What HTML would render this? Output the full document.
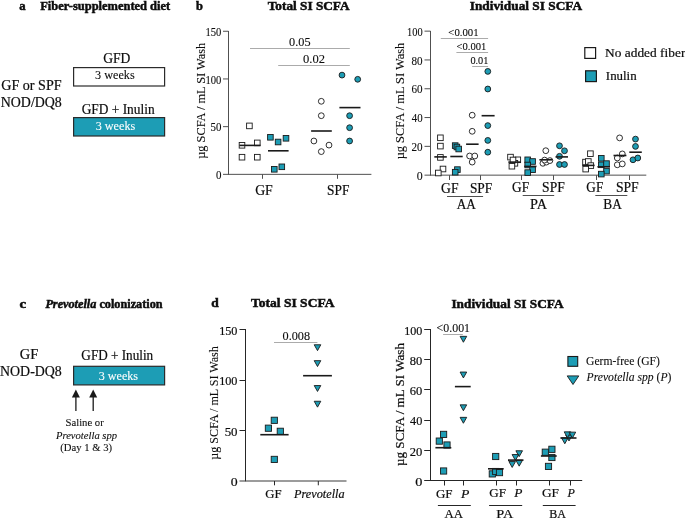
<!DOCTYPE html>
<html><head><meta charset="utf-8"><style>
html,body{margin:0;padding:0;background:#fff;}
svg{display:block;font-family:"Liberation Serif",serif;will-change:transform;}
</style></head><body>
<svg width="685" height="518" viewBox="0 0 685 518">
<rect width="685" height="518" fill="#fff"/>
<rect x="73.6" y="67.6" width="91" height="18.4" fill="#ffffff" stroke="#2b2b2b" stroke-width="1.2"/>
<rect x="73.6" y="117.6" width="91" height="18.4" fill="#1d9db5" stroke="#2b2b2b" stroke-width="1.2"/>
<line x1="228.5" y1="31.0" x2="228.5" y2="174.85" stroke="#505050" stroke-width="1"/>
<line x1="223.0" y1="174.35" x2="371.4" y2="174.35" stroke="#505050" stroke-width="1"/>
<line x1="223.0" y1="126.65" x2="228.5" y2="126.65" stroke="#505050" stroke-width="1"/>
<line x1="223.0" y1="78.95" x2="228.5" y2="78.95" stroke="#505050" stroke-width="1"/>
<line x1="223.0" y1="31.25" x2="228.5" y2="31.25" stroke="#505050" stroke-width="1"/>
<line x1="262.5" y1="174.35" x2="262.5" y2="178.8" stroke="#505050" stroke-width="1"/>
<line x1="337.5" y1="174.35" x2="337.5" y2="178.8" stroke="#505050" stroke-width="1"/>
<line x1="250" y1="48.5" x2="349.8" y2="48.5" stroke="#ababab" stroke-width="1"/>
<line x1="278.2" y1="65.5" x2="349.8" y2="65.5" stroke="#ababab" stroke-width="1"/>
<rect x="246.60" y="123.10" width="5.6" height="5.6" fill="#ffffff" stroke="#1a1a1a" stroke-width="0.9"/>
<rect x="239.20" y="142.50" width="5.6" height="5.6" fill="#ffffff" stroke="#1a1a1a" stroke-width="0.9"/>
<rect x="254.50" y="140.10" width="5.6" height="5.6" fill="#ffffff" stroke="#1a1a1a" stroke-width="0.9"/>
<rect x="239.20" y="154.40" width="5.6" height="5.6" fill="#ffffff" stroke="#1a1a1a" stroke-width="0.9"/>
<rect x="254.50" y="154.40" width="5.6" height="5.6" fill="#ffffff" stroke="#1a1a1a" stroke-width="0.9"/>
<line x1="239.4" y1="145.4" x2="260.5" y2="145.4" stroke="#1a1a1a" stroke-width="1.6"/>
<rect x="267.60" y="134.50" width="5.6" height="5.6" fill="#1d9db5" stroke="#1a1a1a" stroke-width="0.9"/>
<rect x="275.30" y="139.20" width="5.6" height="5.6" fill="#1d9db5" stroke="#1a1a1a" stroke-width="0.9"/>
<rect x="283.20" y="135.50" width="5.6" height="5.6" fill="#1d9db5" stroke="#1a1a1a" stroke-width="0.9"/>
<rect x="271.50" y="166.50" width="5.6" height="5.6" fill="#1d9db5" stroke="#1a1a1a" stroke-width="0.9"/>
<rect x="279.00" y="164.00" width="5.6" height="5.6" fill="#1d9db5" stroke="#1a1a1a" stroke-width="0.9"/>
<line x1="268" y1="150.8" x2="288.6" y2="150.8" stroke="#1a1a1a" stroke-width="1.6"/>
<circle cx="321.3" cy="101.3" r="2.9" fill="#ffffff" stroke="#1a1a1a" stroke-width="0.9"/>
<circle cx="321.3" cy="115.7" r="2.9" fill="#ffffff" stroke="#1a1a1a" stroke-width="0.9"/>
<circle cx="313.9" cy="141" r="2.9" fill="#ffffff" stroke="#1a1a1a" stroke-width="0.9"/>
<circle cx="329" cy="145.1" r="2.9" fill="#ffffff" stroke="#1a1a1a" stroke-width="0.9"/>
<circle cx="321.3" cy="151.6" r="2.9" fill="#ffffff" stroke="#1a1a1a" stroke-width="0.9"/>
<line x1="311.1" y1="131" x2="331.8" y2="131" stroke="#1a1a1a" stroke-width="1.6"/>
<circle cx="342" cy="75.1" r="2.9" fill="#1d9db5" stroke="#1a1a1a" stroke-width="0.9"/>
<circle cx="357.7" cy="79.3" r="2.9" fill="#1d9db5" stroke="#1a1a1a" stroke-width="0.9"/>
<circle cx="349.6" cy="115.7" r="2.9" fill="#1d9db5" stroke="#1a1a1a" stroke-width="0.9"/>
<circle cx="349.6" cy="127.7" r="2.9" fill="#1d9db5" stroke="#1a1a1a" stroke-width="0.9"/>
<circle cx="349.6" cy="141" r="2.9" fill="#1d9db5" stroke="#1a1a1a" stroke-width="0.9"/>
<line x1="339.4" y1="107.6" x2="360.5" y2="107.6" stroke="#1a1a1a" stroke-width="1.6"/>
<line x1="430.5" y1="31.0" x2="430.5" y2="175.65" stroke="#505050" stroke-width="1"/>
<line x1="424.5" y1="175.15" x2="646.3" y2="175.15" stroke="#505050" stroke-width="1"/>
<line x1="424.5" y1="146.35000000000002" x2="430.5" y2="146.35000000000002" stroke="#505050" stroke-width="1"/>
<line x1="424.5" y1="117.55000000000001" x2="430.5" y2="117.55000000000001" stroke="#505050" stroke-width="1"/>
<line x1="424.5" y1="88.75000000000001" x2="430.5" y2="88.75000000000001" stroke="#505050" stroke-width="1"/>
<line x1="424.5" y1="59.95000000000002" x2="430.5" y2="59.95000000000002" stroke="#505050" stroke-width="1"/>
<line x1="424.5" y1="31.150000000000006" x2="430.5" y2="31.150000000000006" stroke="#505050" stroke-width="1"/>
<line x1="449.5" y1="175.15" x2="449.5" y2="180.0" stroke="#505050" stroke-width="1"/>
<line x1="480.5" y1="175.15" x2="480.5" y2="180.0" stroke="#505050" stroke-width="1"/>
<line x1="521.5" y1="175.15" x2="521.5" y2="180.0" stroke="#505050" stroke-width="1"/>
<line x1="553.5" y1="175.15" x2="553.5" y2="180.0" stroke="#505050" stroke-width="1"/>
<line x1="596.5" y1="175.15" x2="596.5" y2="180.0" stroke="#505050" stroke-width="1"/>
<line x1="629.5" y1="175.15" x2="629.5" y2="180.0" stroke="#505050" stroke-width="1"/>
<line x1="447.0" y1="196.5" x2="483.1" y2="196.5" stroke="#505050" stroke-width="1"/>
<line x1="522.7" y1="195.5" x2="554.2" y2="195.5" stroke="#505050" stroke-width="1"/>
<line x1="595.3" y1="195.5" x2="627.3" y2="195.5" stroke="#505050" stroke-width="1"/>
<line x1="440.8" y1="38.5" x2="488.1" y2="38.5" stroke="#ababab" stroke-width="1"/>
<line x1="456.4" y1="52.5" x2="488.1" y2="52.5" stroke="#ababab" stroke-width="1"/>
<line x1="472.2" y1="66.5" x2="488.1" y2="66.5" stroke="#ababab" stroke-width="1"/>
<rect x="584.8" y="47.6" width="10.8" height="10.8" fill="#ffffff" stroke="#1a1a1a" stroke-width="1.2"/>
<rect x="585.6" y="70.8" width="10.8" height="10.8" fill="#1d9db5" stroke="#1a1a1a" stroke-width="1.2"/>
<rect x="437.60" y="135.00" width="5.6" height="5.6" fill="#ffffff" stroke="#1a1a1a" stroke-width="0.9"/>
<rect x="437.60" y="143.30" width="5.6" height="5.6" fill="#ffffff" stroke="#1a1a1a" stroke-width="0.9"/>
<rect x="437.60" y="154.60" width="5.6" height="5.6" fill="#ffffff" stroke="#1a1a1a" stroke-width="0.9"/>
<rect x="440.20" y="166.20" width="5.6" height="5.6" fill="#ffffff" stroke="#1a1a1a" stroke-width="0.9"/>
<rect x="435.50" y="170.20" width="5.6" height="5.6" fill="#ffffff" stroke="#1a1a1a" stroke-width="0.9"/>
<line x1="434.3" y1="156.9" x2="446.8" y2="156.9" stroke="#1a1a1a" stroke-width="1.6"/>
<rect x="452.40" y="142.80" width="5.6" height="5.6" fill="#1d9db5" stroke="#1a1a1a" stroke-width="0.9"/>
<rect x="454.10" y="144.20" width="5.6" height="5.6" fill="#1d9db5" stroke="#1a1a1a" stroke-width="0.9"/>
<rect x="455.90" y="146.20" width="5.6" height="5.6" fill="#1d9db5" stroke="#1a1a1a" stroke-width="0.9"/>
<rect x="454.60" y="166.80" width="5.6" height="5.6" fill="#1d9db5" stroke="#1a1a1a" stroke-width="0.9"/>
<rect x="452.40" y="169.40" width="5.6" height="5.6" fill="#1d9db5" stroke="#1a1a1a" stroke-width="0.9"/>
<line x1="450.3" y1="156.5" x2="462.7" y2="156.5" stroke="#1a1a1a" stroke-width="1.6"/>
<circle cx="472.2" cy="115.2" r="2.9" fill="#ffffff" stroke="#1a1a1a" stroke-width="0.9"/>
<circle cx="472.2" cy="131.3" r="2.9" fill="#ffffff" stroke="#1a1a1a" stroke-width="0.9"/>
<circle cx="469.6" cy="156" r="2.9" fill="#ffffff" stroke="#1a1a1a" stroke-width="0.9"/>
<circle cx="474.8" cy="156" r="2.9" fill="#ffffff" stroke="#1a1a1a" stroke-width="0.9"/>
<circle cx="472.2" cy="162.1" r="2.9" fill="#ffffff" stroke="#1a1a1a" stroke-width="0.9"/>
<line x1="466.1" y1="144.2" x2="478.6" y2="144.2" stroke="#1a1a1a" stroke-width="1.6"/>
<circle cx="487.8" cy="71.4" r="2.9" fill="#1d9db5" stroke="#1a1a1a" stroke-width="0.9"/>
<circle cx="487.8" cy="89" r="2.9" fill="#1d9db5" stroke="#1a1a1a" stroke-width="0.9"/>
<circle cx="487.8" cy="125.6" r="2.9" fill="#1d9db5" stroke="#1a1a1a" stroke-width="0.9"/>
<circle cx="487.8" cy="140.4" r="2.9" fill="#1d9db5" stroke="#1a1a1a" stroke-width="0.9"/>
<circle cx="487.8" cy="152.2" r="2.9" fill="#1d9db5" stroke="#1a1a1a" stroke-width="0.9"/>
<line x1="481.6" y1="115.7" x2="494.6" y2="115.7" stroke="#1a1a1a" stroke-width="1.6"/>
<rect x="507.70" y="154.30" width="5.6" height="5.6" fill="#ffffff" stroke="#1a1a1a" stroke-width="0.9"/>
<rect x="515.00" y="157.00" width="5.6" height="5.6" fill="#ffffff" stroke="#1a1a1a" stroke-width="0.9"/>
<rect x="512.10" y="160.50" width="5.6" height="5.6" fill="#ffffff" stroke="#1a1a1a" stroke-width="0.9"/>
<rect x="509.10" y="163.40" width="5.6" height="5.6" fill="#ffffff" stroke="#1a1a1a" stroke-width="0.9"/>
<rect x="510.20" y="157.20" width="5.6" height="5.6" fill="#ffffff" stroke="#1a1a1a" stroke-width="0.9"/>
<line x1="508.4" y1="162.1" x2="520.7" y2="162.1" stroke="#1a1a1a" stroke-width="1.6"/>
<rect x="524.90" y="157.00" width="5.6" height="5.6" fill="#1d9db5" stroke="#1a1a1a" stroke-width="0.9"/>
<rect x="529.80" y="158.70" width="5.6" height="5.6" fill="#1d9db5" stroke="#1a1a1a" stroke-width="0.9"/>
<rect x="524.90" y="162.20" width="5.6" height="5.6" fill="#1d9db5" stroke="#1a1a1a" stroke-width="0.9"/>
<rect x="529.80" y="166.90" width="5.6" height="5.6" fill="#1d9db5" stroke="#1a1a1a" stroke-width="0.9"/>
<rect x="524.90" y="169.80" width="5.6" height="5.6" fill="#1d9db5" stroke="#1a1a1a" stroke-width="0.9"/>
<line x1="524.2" y1="166.4" x2="536.5" y2="166.4" stroke="#1a1a1a" stroke-width="1.6"/>
<circle cx="545.8" cy="150.7" r="2.9" fill="#ffffff" stroke="#1a1a1a" stroke-width="0.9"/>
<circle cx="542.9" cy="163.3" r="2.9" fill="#ffffff" stroke="#1a1a1a" stroke-width="0.9"/>
<circle cx="546.4" cy="162.1" r="2.9" fill="#ffffff" stroke="#1a1a1a" stroke-width="0.9"/>
<circle cx="549.9" cy="160.6" r="2.9" fill="#ffffff" stroke="#1a1a1a" stroke-width="0.9"/>
<circle cx="544.6" cy="160.1" r="2.9" fill="#ffffff" stroke="#1a1a1a" stroke-width="0.9"/>
<line x1="539.4" y1="159.8" x2="552.5" y2="159.8" stroke="#1a1a1a" stroke-width="1.6"/>
<circle cx="559.5" cy="145.8" r="2.9" fill="#1d9db5" stroke="#1a1a1a" stroke-width="0.9"/>
<circle cx="564.5" cy="150.8" r="2.9" fill="#1d9db5" stroke="#1a1a1a" stroke-width="0.9"/>
<circle cx="559.5" cy="156.3" r="2.9" fill="#1d9db5" stroke="#1a1a1a" stroke-width="0.9"/>
<circle cx="559.5" cy="164.5" r="2.9" fill="#1d9db5" stroke="#1a1a1a" stroke-width="0.9"/>
<circle cx="564.5" cy="164.5" r="2.9" fill="#1d9db5" stroke="#1a1a1a" stroke-width="0.9"/>
<line x1="555.5" y1="156.9" x2="568" y2="156.9" stroke="#1a1a1a" stroke-width="1.6"/>
<rect x="587.60" y="150.90" width="5.6" height="5.6" fill="#ffffff" stroke="#1a1a1a" stroke-width="0.9"/>
<rect x="582.70" y="159.30" width="5.6" height="5.6" fill="#ffffff" stroke="#1a1a1a" stroke-width="0.9"/>
<rect x="585.50" y="158.70" width="5.6" height="5.6" fill="#ffffff" stroke="#1a1a1a" stroke-width="0.9"/>
<rect x="588.00" y="162.80" width="5.6" height="5.6" fill="#ffffff" stroke="#1a1a1a" stroke-width="0.9"/>
<rect x="582.90" y="166.30" width="5.6" height="5.6" fill="#ffffff" stroke="#1a1a1a" stroke-width="0.9"/>
<line x1="582.2" y1="165.4" x2="594.6" y2="165.4" stroke="#1a1a1a" stroke-width="1.6"/>
<rect x="598.50" y="155.50" width="5.6" height="5.6" fill="#1d9db5" stroke="#1a1a1a" stroke-width="0.9"/>
<rect x="598.50" y="162.00" width="5.6" height="5.6" fill="#1d9db5" stroke="#1a1a1a" stroke-width="0.9"/>
<rect x="603.70" y="160.80" width="5.6" height="5.6" fill="#1d9db5" stroke="#1a1a1a" stroke-width="0.9"/>
<rect x="603.70" y="168.30" width="5.6" height="5.6" fill="#1d9db5" stroke="#1a1a1a" stroke-width="0.9"/>
<rect x="598.50" y="171.30" width="5.6" height="5.6" fill="#1d9db5" stroke="#1a1a1a" stroke-width="0.9"/>
<line x1="597.4" y1="166.8" x2="610" y2="166.8" stroke="#1a1a1a" stroke-width="1.6"/>
<circle cx="619.6" cy="137.9" r="2.9" fill="#ffffff" stroke="#1a1a1a" stroke-width="0.9"/>
<circle cx="622.3" cy="153.9" r="2.9" fill="#ffffff" stroke="#1a1a1a" stroke-width="0.9"/>
<circle cx="617.3" cy="158" r="2.9" fill="#ffffff" stroke="#1a1a1a" stroke-width="0.9"/>
<circle cx="617.3" cy="164.8" r="2.9" fill="#ffffff" stroke="#1a1a1a" stroke-width="0.9"/>
<circle cx="622.3" cy="163.9" r="2.9" fill="#ffffff" stroke="#1a1a1a" stroke-width="0.9"/>
<line x1="613.5" y1="155.5" x2="626.4" y2="155.5" stroke="#1a1a1a" stroke-width="1.6"/>
<circle cx="635.5" cy="139.1" r="2.9" fill="#1d9db5" stroke="#1a1a1a" stroke-width="0.9"/>
<circle cx="635.5" cy="146.4" r="2.9" fill="#1d9db5" stroke="#1a1a1a" stroke-width="0.9"/>
<circle cx="633" cy="159.8" r="2.9" fill="#1d9db5" stroke="#1a1a1a" stroke-width="0.9"/>
<circle cx="637.8" cy="158" r="2.9" fill="#1d9db5" stroke="#1a1a1a" stroke-width="0.9"/>
<line x1="629.3" y1="152.2" x2="641.8" y2="152.2" stroke="#1a1a1a" stroke-width="1.6"/>
<rect x="73.6" y="366.3" width="91" height="18.6" fill="#1d9db5" stroke="#2b2b2b" stroke-width="1.2"/>
<line x1="75.9" y1="396" x2="75.9" y2="411" stroke="#1a1a1a" stroke-width="1.3"/>
<path d="M71.9,397.4 L79.9,397.4 L75.9,389.6 Z" fill="#1a1a1a"/>
<line x1="93.2" y1="396" x2="93.2" y2="411" stroke="#1a1a1a" stroke-width="1.3"/>
<path d="M89.2,397.4 L97.2,397.4 L93.2,389.6 Z" fill="#1a1a1a"/>
<line x1="245.5" y1="329.0" x2="245.5" y2="481.3" stroke="#262626" stroke-width="1"/>
<line x1="239.5" y1="481.0" x2="346.5" y2="481.0" stroke="#3a3a3a" stroke-width="1.1"/>
<line x1="239.5" y1="430.5" x2="245.5" y2="430.5" stroke="#262626" stroke-width="1"/>
<line x1="239.5" y1="380.5" x2="245.5" y2="380.5" stroke="#262626" stroke-width="1"/>
<line x1="239.5" y1="329.5" x2="245.5" y2="329.5" stroke="#262626" stroke-width="1"/>
<line x1="274.5" y1="481.0" x2="274.5" y2="485.3" stroke="#262626" stroke-width="1"/>
<line x1="318.3" y1="481.0" x2="318.3" y2="485.3" stroke="#262626" stroke-width="1"/>
<line x1="274.0" y1="342.5" x2="317.4" y2="342.5" stroke="#ababab" stroke-width="1"/>
<rect x="271.20" y="417.20" width="6.2" height="6.2" fill="#1d9db5" stroke="#1a1a1a" stroke-width="0.9"/>
<rect x="265.30" y="425.10" width="6.2" height="6.2" fill="#1d9db5" stroke="#1a1a1a" stroke-width="0.9"/>
<rect x="277.20" y="428.20" width="6.2" height="6.2" fill="#1d9db5" stroke="#1a1a1a" stroke-width="0.9"/>
<rect x="271.20" y="456.30" width="6.2" height="6.2" fill="#1d9db5" stroke="#1a1a1a" stroke-width="0.9"/>
<line x1="260.3" y1="434.7" x2="288.6" y2="434.7" stroke="#1a1a1a" stroke-width="1.6"/>
<path d="M314.20,344.75 L320.80,344.75 L317.50,350.65 Z" fill="#1d9db5" stroke="#1a1a1a" stroke-width="0.9"/>
<path d="M314.20,360.65 L320.80,360.65 L317.50,366.55 Z" fill="#1d9db5" stroke="#1a1a1a" stroke-width="0.9"/>
<path d="M314.20,385.55 L320.80,385.55 L317.50,391.45 Z" fill="#1d9db5" stroke="#1a1a1a" stroke-width="0.9"/>
<path d="M314.20,401.25 L320.80,401.25 L317.50,407.15 Z" fill="#1d9db5" stroke="#1a1a1a" stroke-width="0.9"/>
<line x1="303.1" y1="375.7" x2="331.9" y2="375.7" stroke="#1a1a1a" stroke-width="1.6"/>
<line x1="430.5" y1="329.0" x2="430.5" y2="481.0" stroke="#262626" stroke-width="1"/>
<line x1="424.2" y1="480.5" x2="582.2" y2="480.5" stroke="#262626" stroke-width="1"/>
<line x1="424.2" y1="450.5" x2="430.5" y2="450.5" stroke="#262626" stroke-width="1"/>
<line x1="424.2" y1="420.5" x2="430.5" y2="420.5" stroke="#262626" stroke-width="1"/>
<line x1="424.2" y1="389.5" x2="430.5" y2="389.5" stroke="#262626" stroke-width="1"/>
<line x1="424.2" y1="359.5" x2="430.5" y2="359.5" stroke="#262626" stroke-width="1"/>
<line x1="424.2" y1="329.5" x2="430.5" y2="329.5" stroke="#262626" stroke-width="1"/>
<line x1="444.5" y1="480.5" x2="444.5" y2="485.5" stroke="#262626" stroke-width="1"/>
<line x1="463.5" y1="480.5" x2="463.5" y2="485.5" stroke="#262626" stroke-width="1"/>
<line x1="496.5" y1="480.5" x2="496.5" y2="485.5" stroke="#262626" stroke-width="1"/>
<line x1="516.5" y1="480.5" x2="516.5" y2="485.5" stroke="#262626" stroke-width="1"/>
<line x1="549.5" y1="480.5" x2="549.5" y2="485.5" stroke="#262626" stroke-width="1"/>
<line x1="570.5" y1="480.5" x2="570.5" y2="485.5" stroke="#262626" stroke-width="1"/>
<line x1="437.9" y1="505.5" x2="470.8" y2="505.5" stroke="#262626" stroke-width="1"/>
<line x1="489.1" y1="505.5" x2="522.2" y2="505.5" stroke="#262626" stroke-width="1"/>
<line x1="542.8" y1="505.5" x2="575.6" y2="505.5" stroke="#262626" stroke-width="1"/>
<line x1="443.1" y1="334.5" x2="462.8" y2="334.5" stroke="#ababab" stroke-width="1"/>
<rect x="567.9" y="356.5" width="9.8" height="9.8" fill="#1d9db5" stroke="#1a1a1a" stroke-width="1.1"/>
<path d="M567.20,375.90 L578.80,375.90 L573.00,384.50 Z" fill="#1d9db5" stroke="#1a1a1a" stroke-width="0.9"/>
<rect x="440.50" y="431.30" width="6.2" height="6.2" fill="#1d9db5" stroke="#1a1a1a" stroke-width="0.9"/>
<rect x="436.20" y="438.00" width="6.2" height="6.2" fill="#1d9db5" stroke="#1a1a1a" stroke-width="0.9"/>
<rect x="443.90" y="441.90" width="6.2" height="6.2" fill="#1d9db5" stroke="#1a1a1a" stroke-width="0.9"/>
<rect x="440.50" y="467.90" width="6.2" height="6.2" fill="#1d9db5" stroke="#1a1a1a" stroke-width="0.9"/>
<line x1="435.4" y1="447.7" x2="451.3" y2="447.7" stroke="#1a1a1a" stroke-width="1.6"/>
<path d="M460.10,336.35 L466.70,336.35 L463.40,342.25 Z" fill="#1d9db5" stroke="#1a1a1a" stroke-width="0.9"/>
<path d="M460.10,372.05 L466.70,372.05 L463.40,377.95 Z" fill="#1d9db5" stroke="#1a1a1a" stroke-width="0.9"/>
<path d="M460.10,404.85 L466.70,404.85 L463.40,410.75 Z" fill="#1d9db5" stroke="#1a1a1a" stroke-width="0.9"/>
<path d="M460.10,417.35 L466.70,417.35 L463.40,423.25 Z" fill="#1d9db5" stroke="#1a1a1a" stroke-width="0.9"/>
<line x1="454.9" y1="386.6" x2="470.7" y2="386.6" stroke="#1a1a1a" stroke-width="1.6"/>
<rect x="492.60" y="453.40" width="6.2" height="6.2" fill="#1d9db5" stroke="#1a1a1a" stroke-width="0.9"/>
<rect x="489.20" y="470.80" width="6.2" height="6.2" fill="#1d9db5" stroke="#1a1a1a" stroke-width="0.9"/>
<rect x="492.60" y="468.40" width="6.2" height="6.2" fill="#1d9db5" stroke="#1a1a1a" stroke-width="0.9"/>
<rect x="496.40" y="469.50" width="6.2" height="6.2" fill="#1d9db5" stroke="#1a1a1a" stroke-width="0.9"/>
<line x1="488" y1="468.8" x2="503.7" y2="468.8" stroke="#1a1a1a" stroke-width="1.6"/>
<path d="M515.90,450.75 L522.50,450.75 L519.20,456.65 Z" fill="#1d9db5" stroke="#1a1a1a" stroke-width="0.9"/>
<path d="M512.10,454.55 L518.70,454.55 L515.40,460.45 Z" fill="#1d9db5" stroke="#1a1a1a" stroke-width="0.9"/>
<path d="M508.90,461.55 L515.50,461.55 L512.20,467.45 Z" fill="#1d9db5" stroke="#1a1a1a" stroke-width="0.9"/>
<path d="M515.90,460.25 L522.50,460.25 L519.20,466.15 Z" fill="#1d9db5" stroke="#1a1a1a" stroke-width="0.9"/>
<line x1="508" y1="460.1" x2="523.5" y2="460.1" stroke="#1a1a1a" stroke-width="1.6"/>
<rect x="542.20" y="449.10" width="6.2" height="6.2" fill="#1d9db5" stroke="#1a1a1a" stroke-width="0.9"/>
<rect x="548.80" y="446.20" width="6.2" height="6.2" fill="#1d9db5" stroke="#1a1a1a" stroke-width="0.9"/>
<rect x="548.80" y="454.40" width="6.2" height="6.2" fill="#1d9db5" stroke="#1a1a1a" stroke-width="0.9"/>
<rect x="545.40" y="463.30" width="6.2" height="6.2" fill="#1d9db5" stroke="#1a1a1a" stroke-width="0.9"/>
<line x1="540.9" y1="456" x2="556.7" y2="456" stroke="#1a1a1a" stroke-width="1.6"/>
<path d="M561.50,437.85 L568.10,437.85 L564.80,443.75 Z" fill="#1d9db5" stroke="#1a1a1a" stroke-width="0.9"/>
<path d="M565.70,435.05 L572.30,435.05 L569.00,440.95 Z" fill="#1d9db5" stroke="#1a1a1a" stroke-width="0.9"/>
<path d="M564.20,431.85 L570.80,431.85 L567.50,437.75 Z" fill="#1d9db5" stroke="#1a1a1a" stroke-width="0.9"/>
<path d="M569.10,432.15 L575.70,432.15 L572.40,438.05 Z" fill="#1d9db5" stroke="#1a1a1a" stroke-width="0.9"/>
<line x1="560.4" y1="438" x2="576.5" y2="438" stroke="#1a1a1a" stroke-width="1.6"/>
<text transform="translate(19.32,9.60) scale(0.9584,1)" font-size="13.3" fill="#0d0d0d" stroke="#0d0d0d" stroke-width="0.5"><tspan font-style="normal" font-weight="bold">a</tspan></text>
<text transform="translate(40.21,9.60) scale(0.9378,1)" font-size="13.3" fill="#0d0d0d" stroke="#0d0d0d" stroke-width="0.5"><tspan font-style="normal" font-weight="bold">Fiber-supplemented diet</tspan></text>
<text transform="translate(1.24,89.60) scale(1.0369,1)" font-size="13.6" fill="#0d0d0d" stroke="#0d0d0d" stroke-width="0.2"><tspan font-style="normal" font-weight="normal">GF or SPF</tspan></text>
<text transform="translate(0.78,106.50) scale(1.0229,1)" font-size="13.6" fill="#0d0d0d" stroke="#0d0d0d" stroke-width="0.2"><tspan font-style="normal" font-weight="normal">NOD/DQ8</tspan></text>
<text transform="translate(103.16,63.30) scale(0.9995,1)" font-size="13.6" fill="#0d0d0d" stroke="#0d0d0d" stroke-width="0.2"><tspan font-style="normal" font-weight="normal">GFD</tspan></text>
<text transform="translate(95.09,79.30) scale(0.9915,1)" font-size="12.3" fill="#0d0d0d" stroke="#0d0d0d" stroke-width="0.1"><tspan font-style="normal" font-weight="normal">3 weeks</tspan></text>
<text transform="translate(81.66,113.80) scale(0.9845,1)" font-size="13.6" fill="#0d0d0d" stroke="#0d0d0d" stroke-width="0.2"><tspan font-style="normal" font-weight="normal">GFD + Inulin</tspan></text>
<text transform="translate(95.69,129.90) scale(0.9915,1)" font-size="12.3" fill="#ffffff" stroke="#ffffff" stroke-width="0.1"><tspan font-style="normal" font-weight="normal">3 weeks</tspan></text>
<text transform="translate(196.08,9.60) scale(0.9310,1)" font-size="13.4" fill="#0d0d0d" stroke="#0d0d0d" stroke-width="0.5"><tspan font-style="normal" font-weight="bold">b</tspan></text>
<text transform="translate(267.70,9.60) scale(0.9910,1)" font-size="13.4" fill="#0d0d0d" stroke="#0d0d0d" stroke-width="0.5"><tspan font-style="normal" font-weight="bold">Total SI SCFA</tspan></text>
<text transform="translate(215.96,179.01) scale(0.9442,1)" font-size="11.6" fill="#0d0d0d" stroke="#0d0d0d" stroke-width="0.1"><tspan font-style="normal" font-weight="normal">0</tspan></text>
<text transform="translate(210.55,131.31) scale(0.9387,1)" font-size="11.6" fill="#0d0d0d" stroke="#0d0d0d" stroke-width="0.1"><tspan font-style="normal" font-weight="normal">50</tspan></text>
<text transform="translate(205.50,83.61) scale(0.9154,1)" font-size="11.6" fill="#0d0d0d" stroke="#0d0d0d" stroke-width="0.1"><tspan font-style="normal" font-weight="normal">100</tspan></text>
<text transform="translate(205.50,35.91) scale(0.9154,1)" font-size="11.6" fill="#0d0d0d" stroke="#0d0d0d" stroke-width="0.1"><tspan font-style="normal" font-weight="normal">150</tspan></text>
<text transform="translate(255.15,194.90) scale(0.9911,1)" font-size="13.9" fill="#0d0d0d" stroke="#0d0d0d" stroke-width="0.2"><tspan font-style="normal" font-weight="normal">GF</tspan></text>
<text transform="translate(327.03,194.90) scale(0.9623,1)" font-size="13.9" fill="#0d0d0d" stroke="#0d0d0d" stroke-width="0.2"><tspan font-style="normal" font-weight="normal">SPF</tspan></text>
<text transform="translate(205.10,158.77) rotate(-90) scale(1.0033,1)" font-size="12.3" fill="#0d0d0d" stroke="#0d0d0d" stroke-width="0.1"><tspan font-style="normal" font-weight="normal">µg SCFA / mL SI Wash</tspan></text>
<text transform="translate(289.11,45.80) scale(1.0230,1)" font-size="12.0" fill="#0d0d0d" stroke="#0d0d0d" stroke-width="0.1"><tspan font-style="normal" font-weight="normal">0.05</tspan></text>
<text transform="translate(303.10,62.90) scale(1.0473,1)" font-size="12.0" fill="#0d0d0d" stroke="#0d0d0d" stroke-width="0.1"><tspan font-style="normal" font-weight="normal">0.02</tspan></text>
<text transform="translate(469.73,9.60) scale(0.9962,1)" font-size="13.4" fill="#0d0d0d" stroke="#0d0d0d" stroke-width="0.5"><tspan font-style="normal" font-weight="bold">Individual SI SCFA</tspan></text>
<text transform="translate(416.72,179.81) scale(1.0263,1)" font-size="11.6" fill="#0d0d0d" stroke="#0d0d0d" stroke-width="0.1"><tspan font-style="normal" font-weight="normal">0</tspan></text>
<text transform="translate(411.50,151.01) scale(0.9610,1)" font-size="11.6" fill="#0d0d0d" stroke="#0d0d0d" stroke-width="0.1"><tspan font-style="normal" font-weight="normal">20</tspan></text>
<text transform="translate(411.78,122.21) scale(0.9354,1)" font-size="11.6" fill="#0d0d0d" stroke="#0d0d0d" stroke-width="0.1"><tspan font-style="normal" font-weight="normal">40</tspan></text>
<text transform="translate(411.56,93.41) scale(0.9558,1)" font-size="11.6" fill="#0d0d0d" stroke="#0d0d0d" stroke-width="0.1"><tspan font-style="normal" font-weight="normal">60</tspan></text>
<text transform="translate(411.56,64.61) scale(0.9558,1)" font-size="11.6" fill="#0d0d0d" stroke="#0d0d0d" stroke-width="0.1"><tspan font-style="normal" font-weight="normal">80</tspan></text>
<text transform="translate(407.02,35.81) scale(0.8966,1)" font-size="11.6" fill="#0d0d0d" stroke="#0d0d0d" stroke-width="0.1"><tspan font-style="normal" font-weight="normal">100</tspan></text>
<text transform="translate(404.20,159.37) rotate(-90) scale(1.0101,1)" font-size="12.3" fill="#0d0d0d" stroke="#0d0d0d" stroke-width="0.1"><tspan font-style="normal" font-weight="normal">µg SCFA / mL SI Wash</tspan></text>
<text transform="translate(441.06,192.60) scale(0.9791,1)" font-size="13.9" fill="#0d0d0d" stroke="#0d0d0d" stroke-width="0.2"><tspan font-style="normal" font-weight="normal">GF</tspan></text>
<text transform="translate(469.93,192.60) scale(0.9623,1)" font-size="13.9" fill="#0d0d0d" stroke="#0d0d0d" stroke-width="0.2"><tspan font-style="normal" font-weight="normal">SPF</tspan></text>
<text transform="translate(512.07,191.70) scale(0.9553,1)" font-size="13.9" fill="#0d0d0d" stroke="#0d0d0d" stroke-width="0.2"><tspan font-style="normal" font-weight="normal">GF</tspan></text>
<text transform="translate(542.12,191.70) scale(0.9760,1)" font-size="13.9" fill="#0d0d0d" stroke="#0d0d0d" stroke-width="0.2"><tspan font-style="normal" font-weight="normal">SPF</tspan></text>
<text transform="translate(586.37,191.60) scale(0.9493,1)" font-size="13.9" fill="#0d0d0d" stroke="#0d0d0d" stroke-width="0.2"><tspan font-style="normal" font-weight="normal">GF</tspan></text>
<text transform="translate(615.91,191.60) scale(0.9852,1)" font-size="13.9" fill="#0d0d0d" stroke="#0d0d0d" stroke-width="0.2"><tspan font-style="normal" font-weight="normal">SPF</tspan></text>
<text transform="translate(456.77,208.60) scale(0.9508,1)" font-size="13.9" fill="#0d0d0d" stroke="#0d0d0d" stroke-width="0.2"><tspan font-style="normal" font-weight="normal">AA</tspan></text>
<text transform="translate(530.07,208.70) scale(1.0260,1)" font-size="13.9" fill="#0d0d0d" stroke="#0d0d0d" stroke-width="0.2"><tspan font-style="normal" font-weight="normal">PA</tspan></text>
<text transform="translate(603.30,208.70) scale(0.9557,1)" font-size="13.9" fill="#0d0d0d" stroke="#0d0d0d" stroke-width="0.2"><tspan font-style="normal" font-weight="normal">BA</tspan></text>
<text transform="translate(448.36,35.50) scale(0.9520,1)" font-size="11.3" fill="#0d0d0d" stroke="#0d0d0d" stroke-width="0.1"><tspan font-style="normal" font-weight="normal">&lt;0.001</tspan></text>
<text transform="translate(456.47,49.50) scale(0.9389,1)" font-size="11.3" fill="#0d0d0d" stroke="#0d0d0d" stroke-width="0.1"><tspan font-style="normal" font-weight="normal">&lt;0.001</tspan></text>
<text transform="translate(470.39,63.50) scale(0.9118,1)" font-size="11.3" fill="#0d0d0d" stroke="#0d0d0d" stroke-width="0.1"><tspan font-style="normal" font-weight="normal">0.01</tspan></text>
<text transform="translate(605.10,57.00) scale(1.0299,1)" font-size="13" fill="#0d0d0d" stroke="#0d0d0d" stroke-width="0.2"><tspan font-style="normal" font-weight="normal">No added fiber</tspan></text>
<text transform="translate(605.85,80.00) scale(0.9928,1)" font-size="13" fill="#0d0d0d" stroke="#0d0d0d" stroke-width="0.2"><tspan font-style="normal" font-weight="normal">Inulin</tspan></text>
<text transform="translate(19.38,307.90) scale(1.1132,1)" font-size="13.3" fill="#0d0d0d" stroke="#0d0d0d" stroke-width="0.5"><tspan font-style="normal" font-weight="bold">c</tspan></text>
<text transform="translate(45.40,307.90) scale(0.9213,1)" font-size="13.3" fill="#0d0d0d" stroke="#0d0d0d" stroke-width="0.5"><tspan font-style="italic" font-weight="bold">Prevotella</tspan><tspan font-style="normal" font-weight="bold"> colonization</tspan></text>
<text transform="translate(19.82,358.90) scale(1.0388,1)" font-size="13.9" fill="#0d0d0d" stroke="#0d0d0d" stroke-width="0.2"><tspan font-style="normal" font-weight="normal">GF</tspan></text>
<text transform="translate(0.08,375.80) scale(0.9998,1)" font-size="13.9" fill="#0d0d0d" stroke="#0d0d0d" stroke-width="0.2"><tspan font-style="normal" font-weight="normal">NOD-DQ8</tspan></text>
<text transform="translate(81.37,360.40) scale(0.9486,1)" font-size="13.9" fill="#0d0d0d" stroke="#0d0d0d" stroke-width="0.2"><tspan font-style="normal" font-weight="normal">GFD + Inulin</tspan></text>
<text transform="translate(98.69,379.70) scale(0.9864,1)" font-size="12.3" fill="#ffffff" stroke="#ffffff" stroke-width="0.1"><tspan font-style="normal" font-weight="normal">3 weeks</tspan></text>
<text transform="translate(65.51,425.80) scale(1.0079,1)" font-size="10.6" fill="#0d0d0d" stroke="#0d0d0d" stroke-width="0.1"><tspan font-style="normal" font-weight="normal">Saline or</tspan></text>
<text transform="translate(55.95,438.70) scale(1.0000,1)" font-size="10.6" fill="#0d0d0d" stroke="#0d0d0d" stroke-width="0.1"><tspan font-style="italic" font-weight="normal">Prevotella spp</tspan></text>
<text transform="translate(60.32,451.30) scale(1.0067,1)" font-size="10.6" fill="#0d0d0d" stroke="#0d0d0d" stroke-width="0.1"><tspan font-style="normal" font-weight="normal">(Day 1 &amp; 3)</tspan></text>
<text transform="translate(211.16,307.00) scale(1.0049,1)" font-size="13.4" fill="#0d0d0d" stroke="#0d0d0d" stroke-width="0.5"><tspan font-style="normal" font-weight="bold">d</tspan></text>
<text transform="translate(251.00,307.00) scale(1.0104,1)" font-size="13.4" fill="#0d0d0d" stroke="#0d0d0d" stroke-width="0.5"><tspan font-style="normal" font-weight="bold">Total SI SCFA</tspan></text>
<text transform="translate(230.65,486.26) scale(1.0789,1)" font-size="12.8" fill="#0d0d0d" stroke="#0d0d0d" stroke-width="0.2"><tspan font-style="normal" font-weight="normal">0</tspan></text>
<text transform="translate(224.63,435.76) scale(1.0069,1)" font-size="12.8" fill="#0d0d0d" stroke="#0d0d0d" stroke-width="0.2"><tspan font-style="normal" font-weight="normal">50</tspan></text>
<text transform="translate(219.16,385.26) scale(0.9545,1)" font-size="12.8" fill="#0d0d0d" stroke="#0d0d0d" stroke-width="0.2"><tspan font-style="normal" font-weight="normal">100</tspan></text>
<text transform="translate(219.16,334.76) scale(0.9545,1)" font-size="12.8" fill="#0d0d0d" stroke="#0d0d0d" stroke-width="0.2"><tspan font-style="normal" font-weight="normal">150</tspan></text>
<text transform="translate(265.19,497.50) scale(0.9682,1)" font-size="13.2" fill="#0d0d0d" stroke="#0d0d0d" stroke-width="0.2"><tspan font-style="normal" font-weight="normal">GF</tspan></text>
<text transform="translate(294.06,497.50) scale(0.9287,1)" font-size="13.2" fill="#0d0d0d" stroke="#0d0d0d" stroke-width="0.2"><tspan font-style="italic" font-weight="normal">Prevotella</tspan></text>
<text transform="translate(217.80,459.66) rotate(-90) scale(0.9827,1)" font-size="12.3" fill="#0d0d0d" stroke="#0d0d0d" stroke-width="0.1"><tspan font-style="normal" font-weight="normal">µg SCFA / mL SI Wash</tspan></text>
<text transform="translate(282.51,339.80) scale(1.0215,1)" font-size="12.0" fill="#0d0d0d" stroke="#0d0d0d" stroke-width="0.1"><tspan font-style="normal" font-weight="normal">0.008</tspan></text>
<text transform="translate(451.43,307.80) scale(0.9935,1)" font-size="13.4" fill="#0d0d0d" stroke="#0d0d0d" stroke-width="0.5"><tspan font-style="normal" font-weight="bold">Individual SI SCFA</tspan></text>
<text transform="translate(415.23,485.86) scale(1.1161,1)" font-size="12.8" fill="#0d0d0d" stroke="#0d0d0d" stroke-width="0.2"><tspan font-style="normal" font-weight="normal">0</tspan></text>
<text transform="translate(409.73,455.66) scale(0.9819,1)" font-size="12.8" fill="#0d0d0d" stroke="#0d0d0d" stroke-width="0.2"><tspan font-style="normal" font-weight="normal">20</tspan></text>
<text transform="translate(410.06,425.46) scale(0.9558,1)" font-size="12.8" fill="#0d0d0d" stroke="#0d0d0d" stroke-width="0.2"><tspan font-style="normal" font-weight="normal">40</tspan></text>
<text transform="translate(409.80,395.26) scale(0.9766,1)" font-size="12.8" fill="#0d0d0d" stroke="#0d0d0d" stroke-width="0.2"><tspan font-style="normal" font-weight="normal">60</tspan></text>
<text transform="translate(409.80,365.06) scale(0.9766,1)" font-size="12.8" fill="#0d0d0d" stroke="#0d0d0d" stroke-width="0.2"><tspan font-style="normal" font-weight="normal">80</tspan></text>
<text transform="translate(404.17,334.86) scale(0.9432,1)" font-size="12.8" fill="#0d0d0d" stroke="#0d0d0d" stroke-width="0.2"><tspan font-style="normal" font-weight="normal">100</tspan></text>
<text transform="translate(404.30,465.99) rotate(-90) scale(1.0235,1)" font-size="12.8" fill="#0d0d0d" stroke="#0d0d0d" stroke-width="0.2"><tspan font-style="normal" font-weight="normal">µg SCFA / mL SI Wash</tspan></text>
<text transform="translate(435.88,498.40) scale(0.9796,1)" font-size="13.3" fill="#0d0d0d" stroke="#0d0d0d" stroke-width="0.2"><tspan font-style="normal" font-weight="normal">GF</tspan></text>
<text transform="translate(460.97,498.40) scale(1.0322,1)" font-size="13.3" fill="#0d0d0d" stroke="#0d0d0d" stroke-width="0.2"><tspan font-style="italic" font-weight="normal">P</tspan></text>
<text transform="translate(489.28,496.80) scale(0.9859,1)" font-size="13.3" fill="#0d0d0d" stroke="#0d0d0d" stroke-width="0.2"><tspan font-style="normal" font-weight="normal">GF</tspan></text>
<text transform="translate(514.17,496.80) scale(1.0068,1)" font-size="13.3" fill="#0d0d0d" stroke="#0d0d0d" stroke-width="0.2"><tspan font-style="italic" font-weight="normal">P</tspan></text>
<text transform="translate(541.97,496.80) scale(1.0046,1)" font-size="13.3" fill="#0d0d0d" stroke="#0d0d0d" stroke-width="0.2"><tspan font-style="normal" font-weight="normal">GF</tspan></text>
<text transform="translate(567.56,496.80) scale(0.9048,1)" font-size="13.3" fill="#0d0d0d" stroke="#0d0d0d" stroke-width="0.2"><tspan font-style="italic" font-weight="normal">P</tspan></text>
<text transform="translate(444.47,517.70) scale(0.9675,1)" font-size="13.3" fill="#0d0d0d" stroke="#0d0d0d" stroke-width="0.2"><tspan font-style="normal" font-weight="normal">AA</tspan></text>
<text transform="translate(496.37,517.70) scale(1.0722,1)" font-size="13.3" fill="#0d0d0d" stroke="#0d0d0d" stroke-width="0.2"><tspan font-style="normal" font-weight="normal">PA</tspan></text>
<text transform="translate(549.24,517.70) scale(0.9045,1)" font-size="13.3" fill="#0d0d0d" stroke="#0d0d0d" stroke-width="0.2"><tspan font-style="normal" font-weight="normal">BA</tspan></text>
<text transform="translate(436.60,332.00) scale(0.9920,1)" font-size="12.0" fill="#0d0d0d" stroke="#0d0d0d" stroke-width="0.1"><tspan font-style="normal" font-weight="normal">&lt;0.001</tspan></text>
<text transform="translate(586.03,364.60) scale(1.0116,1)" font-size="11.5" fill="#0d0d0d" stroke="#0d0d0d" stroke-width="0.1"><tspan font-style="normal" font-weight="normal">Germ-free (GF)</tspan></text>
<text transform="translate(586.56,381.00) scale(1.0127,1)" font-size="11.5" fill="#0d0d0d" stroke="#0d0d0d" stroke-width="0.1"><tspan font-style="italic" font-weight="normal">Prevotella spp</tspan><tspan font-style="normal" font-weight="normal"> (</tspan><tspan font-style="italic" font-weight="normal">P</tspan><tspan font-style="normal" font-weight="normal">)</tspan></text>
</svg></body></html>
